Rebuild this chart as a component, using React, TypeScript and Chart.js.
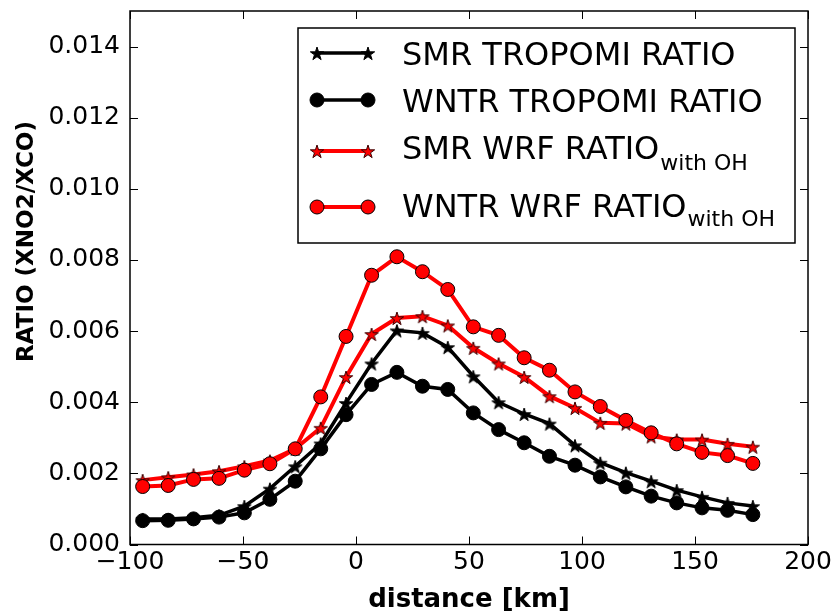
import React, { useEffect, useRef } from "react";
import { Chart, registerables } from "chart.js";

Chart.register(...registerables);

// ---------- data ----------
const distances = [
  -94.4, -83.1, -71.9, -60.6, -49.4, -38.1, -26.9, -15.6, -4.4, 6.9, 18.1, 29.4, 40.6,
  51.9, 63.1, 74.4, 85.6, 96.9, 108.1, 119.4, 130.6, 141.9, 153.1, 164.4, 175.6,
];
const smrTropomi = [
  0.00072, 0.00072, 0.00075, 0.00082, 0.00108, 0.00157, 0.0022, 0.00284, 0.00398, 0.00509,
  0.00602, 0.00595, 0.00555, 0.00473, 0.004, 0.00367, 0.0034, 0.00279, 0.0023, 0.00202,
  0.00178, 0.00153, 0.00134, 0.00117, 0.00108,
];
const wntrTropomi = [
  0.00067, 0.00068, 0.00072, 0.00077, 0.00089, 0.00127, 0.00178, 0.00269, 0.00365, 0.0045,
  0.00484, 0.00445, 0.00436, 0.0037, 0.00323, 0.00286, 0.00248, 0.00223, 0.0019, 0.00162,
  0.00136, 0.00117, 0.00103, 0.00096, 0.00084,
];
const smrWrf = [
  0.00181, 0.00189, 0.00197, 0.00206, 0.0022, 0.00236, 0.00269, 0.00328, 0.00471, 0.00592,
  0.00637, 0.00642, 0.00616, 0.00553, 0.00509, 0.00471, 0.00417, 0.00384, 0.00342, 0.0034,
  0.00304, 0.00295, 0.00295, 0.00283, 0.00275,
];
const wntrWrf = [
  0.00163, 0.00166, 0.00183, 0.00186, 0.00209, 0.00227, 0.00269, 0.00415, 0.00585, 0.00757,
  0.00809, 0.00767, 0.00717, 0.00612, 0.00588, 0.00525, 0.0049, 0.00429, 0.00388, 0.00349,
  0.00314, 0.00283, 0.00259, 0.0025, 0.00228,
];
const seriesLabels = ["SMR TROPOMI RATIO", "WNTR TROPOMI RATIO", "SMR WRF RATIO", "WNTR WRF RATIO"];
const seriesSubscripts = ["", "", "with OH", "with OH"];
const xTickValues = [-100, -50, 0, 50, 100, 150, 200];
const yTickValues = [0, 0.002, 0.004, 0.006, 0.008, 0.01, 0.012, 0.014];
const xTitle = "distance [km]";
const yTitle = "RATIO (XNO2/XCO)";

const FONT = "DejaVu Sans";

function makeStar(fill: string, stroke: string, outer: number) {
  const inner = outer * 0.381966;
  const size = Math.ceil(outer * 2 + 4);
  const c = document.createElement("canvas");
  c.width = size;
  c.height = size;
  const ctx = c.getContext("2d")!;
  const cx = size / 2;
  const cy = size / 2 + 1;
  ctx.beginPath();
  for (let i = 0; i < 10; i++) {
    const r = i % 2 === 0 ? outer : inner;
    const a = -Math.PI / 2 + (i * Math.PI) / 5;
    const px = cx + r * Math.cos(a);
    const py = cy + r * Math.sin(a);
    if (i === 0) ctx.moveTo(px, py);
    else ctx.lineTo(px, py);
  }
  ctx.closePath();
  ctx.fillStyle = fill;
  ctx.fill();
  ctx.lineWidth = 1;
  ctx.strokeStyle = stroke;
  ctx.stroke();
  return c;
}

const framePlugin = {
  id: "mplFrame",
  afterDraw(chart: any) {
    const { ctx, chartArea } = chart;
    const { left, right, top, bottom } = chartArea;
    const xs = chart.scales.x;
    const ys = chart.scales.y;
    ctx.save();
    // inward ticks on all four sides
    ctx.strokeStyle = "#000";
    ctx.lineWidth = 1;
    const tl = 8;
    xTickValues.forEach((v) => {
      const px = Math.round(xs.getPixelForValue(v)) + 0.5;
      ctx.beginPath();
      ctx.moveTo(px, bottom);
      ctx.lineTo(px, bottom - tl);
      ctx.moveTo(px, top);
      ctx.lineTo(px, top + tl);
      ctx.stroke();
    });
    yTickValues.forEach((v) => {
      const py = Math.round(ys.getPixelForValue(v)) + 0.5;
      ctx.beginPath();
      ctx.moveTo(left, py);
      ctx.lineTo(left + tl, py);
      ctx.moveTo(right, py);
      ctx.lineTo(right - tl, py);
      ctx.stroke();
    });
    // frame
    ctx.lineWidth = 1.5;
    ctx.strokeRect(left, top, right - left, bottom - top);

    // y title (rotated)
    ctx.fillStyle = "#000";
    ctx.font = `bold 23px "${FONT}"`;
    ctx.textAlign = "center";
    ctx.textBaseline = "middle";
    ctx.save();
    ctx.translate(27, 241.5);
    ctx.rotate(-Math.PI / 2);
    ctx.fillText(yTitle, 0, 0);
    ctx.restore();

    // legend
    const bx = 298, by = 28, bw = 497, bh = 215;
    ctx.fillStyle = "#fff";
    ctx.fillRect(bx, by, bw, bh);
    ctx.lineWidth = 1.5;
    ctx.strokeStyle = "#000";
    ctx.strokeRect(bx, by, bw, bh);
    const handleY = [53, 100, 151, 207];
    const textBase = [65, 112, 159, 217];
    const subBase = [0, 0, 170, 226];
    chart.data.datasets.forEach((ds: any, i: number) => {
      const y = handleY[i];
      ctx.strokeStyle = ds.borderColor;
      ctx.lineWidth = ds.borderWidth;
      ctx.beginPath();
      ctx.moveTo(317, y);
      ctx.lineTo(368, y);
      ctx.stroke();
      [317, 368].forEach((x) => {
        if (typeof ds.pointStyle === "string") {
          ctx.beginPath();
          ctx.arc(x, y, ds.pointRadius, 0, Math.PI * 2);
          ctx.fillStyle = ds.pointBackgroundColor;
          ctx.fill();
          ctx.lineWidth = ds.pointBorderWidth;
          ctx.strokeStyle = ds.pointBorderColor;
          ctx.stroke();
        } else {
          const img = ds.pointStyle;
          ctx.drawImage(img, x - img.width / 2, y - img.height / 2);
        }
      });
      ctx.fillStyle = "#000";
      ctx.textAlign = "left";
      ctx.textBaseline = "alphabetic";
      ctx.font = `32px "${FONT}"`;
      ctx.fillText(seriesLabels[i], 402, textBase[i]);
      if (seriesSubscripts[i]) {
        const w = ctx.measureText(seriesLabels[i]).width;
        ctx.font = `22px "${FONT}"`;
        ctx.fillText(seriesSubscripts[i], 402 + w + 1, subBase[i]);
      }
    });
    ctx.restore();
  },
};

export default function App() {
  const ref = useRef<HTMLCanvasElement | null>(null);
  useEffect(() => {
    if (!ref.current) return;
    Chart.defaults.font.family = FONT;
    const blackStar = makeStar("#000", "#000", 7);
    const redStar = makeStar("#ff0000", "#3a0000", 7);
    const toPts = (arr: number[]) => arr.map((v, i) => ({ x: distances[i], y: v }));
    const chart = new Chart(ref.current, {
      type: "line",
      data: {
        datasets: [
          {
            label: seriesLabels[0],
            data: toPts(smrTropomi),
            borderColor: "#000",
            borderWidth: 3.5,
            pointStyle: blackStar as any,
            pointRadius: 7,
            order: 4,
          },
          {
            label: seriesLabels[1],
            data: toPts(wntrTropomi),
            borderColor: "#000",
            borderWidth: 3.5,
            pointStyle: "circle",
            pointRadius: 7,
            pointBackgroundColor: "#000",
            pointBorderColor: "#000",
            pointBorderWidth: 1,
            order: 3,
          },
          {
            label: seriesLabels[2],
            data: toPts(smrWrf),
            borderColor: "#ff0000",
            borderWidth: 4,
            pointStyle: redStar as any,
            pointRadius: 7,
            order: 2,
          },
          {
            label: seriesLabels[3],
            data: toPts(wntrWrf),
            borderColor: "#ff0000",
            borderWidth: 4,
            pointStyle: "circle",
            pointRadius: 7,
            pointBackgroundColor: "#ff0000",
            pointBorderColor: "#000",
            pointBorderWidth: 1,
            order: 1,
          },
        ] as any,
      },
      options: {
        animation: false,
        responsive: false,
        layout: { padding: { left: 0, top: 11, right: 28, bottom: 0 } },
        plugins: { legend: { display: false }, tooltip: { enabled: false } },
        elements: { line: { tension: 0 } },
        scales: {
          x: {
            type: "linear",
            min: -100,
            max: 200,
            grid: { display: false, drawTicks: false },
            border: { display: false },
            afterBuildTicks: (s: any) => {
              s.ticks = xTickValues.map((v) => ({ value: v }));
            },
            afterFit: (s: any) => {
              s.height = 68.5;
              s.paddingLeft = 0;
              s.paddingRight = 0;
            },
            ticks: {
              padding: 3,
              color: "#000",
              font: { size: 25, family: FONT },
              maxRotation: 0,
              autoSkip: false,
              callback: (v: any) => String(v).replace("-", "\u2212"),
            },
            title: {
              display: true,
              text: xTitle,
              color: "#000",
              font: { size: 26, weight: "bold", family: FONT, lineHeight: 1.0 },
              padding: 0,
            },
          },
          y: {
            type: "linear",
            min: 0,
            max: 0.015,
            grid: { display: false, drawTicks: false },
            border: { display: false },
            afterBuildTicks: (s: any) => {
              s.ticks = yTickValues.map((v) => ({ value: v }));
            },
            afterFit: (s: any) => {
              s.width = 130;
              s.paddingTop = 0;
              s.paddingBottom = 0;
            },
            ticks: {
              padding: 10,
              color: "#000",
              font: { size: 25, family: FONT },
              autoSkip: false,
              callback: (v: any) => Number(v).toFixed(3),
            },
          },
        },
      },
      plugins: [framePlugin],
    });
    return () => chart.destroy();
  }, []);
  return (
    <div style={{ position: "fixed", left: 0, top: 0, width: 836, height: 613, background: "#fff" }}>
      <canvas ref={ref} width={836} height={613} style={{ display: "block" }} />
    </div>
  );
}
